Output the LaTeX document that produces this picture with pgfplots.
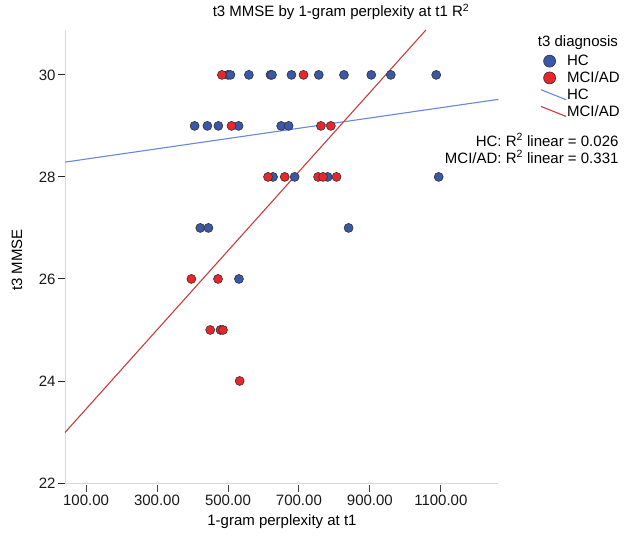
\documentclass[border=0pt]{standalone}
\usepackage{fontspec}
\setmainfont{Liberation Sans}
\usepackage{pgfplots}
\pgfplotsset{compat=1.18}
\definecolor{hcfill}{RGB}{58,88,168}
\definecolor{mcifill}{RGB}{232,38,43}
\definecolor{hcline}{RGB}{105,135,220}
\definecolor{mciline}{RGB}{200,62,62}
\newcommand{\fs}{\fontsize{15}{17}\selectfont}
\pgfplotsset{slantline/.style={legend image code/.code={\draw[##1] (0pt,5pt) -- (25pt,-5pt);}}}

\begin{document}
\begin{tikzpicture}
\path[use as bounding box] (-65pt,-53pt) rectangle (560pt,483pt);
\begin{axis}[
  scale only axis,
  width=433.3pt, height=453pt,
  at={(0pt,0pt)}, anchor=south west,
  xmin=40.7, xmax=1262, ymin=22, ymax=30.88,
  axis x line*=bottom, axis y line*=left,
  axis line style={-, draw=black!15, line width=0.8pt},
  xtick={100,300,500,700,900,1100},
  ytick={22,24,26,28,30},
  tick align=outside,
  major tick length=7pt,
  xtick style={draw=black!75, line width=0.9pt, yshift=-2pt},
  ytick style={draw=black!85, line width=0.9pt},
  scaled x ticks=false,
  x tick label style={/pgf/number format/fixed, /pgf/number format/fixed zerofill,
    /pgf/number format/precision=2, /pgf/number format/1000 sep={}},
  /pgf/number format/assume math mode=true,
  tick label style={font=\fs, text=black!90},
  xticklabel style={yshift=-1pt},
  yticklabel style={xshift=1pt},
  clip=true,
  legend style={at={(rel axis cs:1.097,0.946)}, anchor=north west, draw=none, fill=none,
    font=\fs, row sep=3.6pt, inner sep=0pt, nodes={inner sep=0.5pt},
    /tikz/every even column/.append style={column sep=0pt}},
  legend cell align=left,
]
\addplot[only marks, mark=*, mark size=4.5pt, mark options={fill=hcfill, draw=black!80, line width=0.6pt},
  legend image post style={mark size=6pt}] coordinates {
  (500,30) (507,30) (559,30) (620,30) (624,30) (679,30) (756,30) (827,30) (904,30) (959,30) (1087,30)
  (406,29) (442,29) (473,29) (530,29) (650,29) (671,29)
  (627,28) (688,28) (781,28) (1094,28)
  (422,27) (445,27) (840,27)
  (531,26)
};
\addlegendentry{HC}
\addplot[only marks, mark=*, mark size=4.5pt, mark options={fill=mcifill, draw=black!80, line width=0.6pt},
  legend image post style={mark size=6pt}] coordinates {
  (483,30) (713,30)
  (510,29) (762,29) (790,29)
  (613,28) (660,28) (754,28) (768,28) (806,28)
  (397,26) (472,26)
  (450,25) (479,25) (486,25)
  (533,24)
};
\addlegendentry{MCI/AD}
\addplot[hcline, line width=1.1pt, slantline]
  coordinates {(40.7,28.29) (1262,29.52)};
\addlegendentry{HC}
\addplot[mciline, line width=1.1pt, slantline]
  coordinates {(40.7,22.99) (1058,30.88)};
\addlegendentry{MCI/AD}
\end{axis}
\node[font=\fs] at (276pt,471pt) {t3 MMSE by 1-gram perplexity at t1 R\textsuperscript{2}};
\node[font=\fs] at (217pt,-39pt) {1-gram perplexity at t1};
\node[font=\fs, rotate=90] at (-48pt,223pt) {t3 MMSE};
\node[font=\fs] at (513pt,440pt) {t3 diagnosis};
\node[font=\fs, anchor=east] at (557pt,343pt) {HC: R\textsuperscript{2} linear = 0.026};
\node[font=\fs, anchor=east] at (557pt,326pt) {MCI/AD: R\textsuperscript{2} linear = 0.331};
\end{tikzpicture}
\end{document}
